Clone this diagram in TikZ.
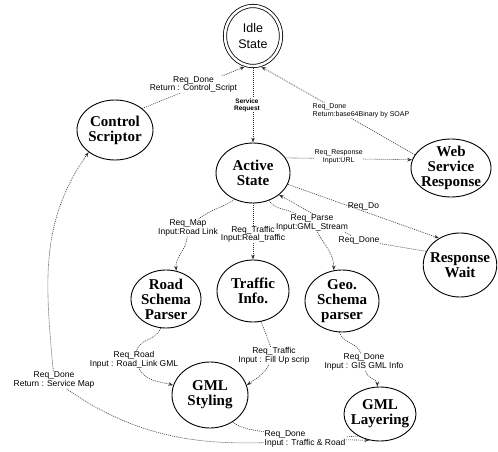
\documentclass[tikz,border=0pt]{standalone}
\usepackage{fontspec}
\setmainfont{Liberation Serif}
\setsansfont{Liberation Sans}
\usetikzlibrary{shapes.geometric,arrows.meta}
\begin{document}
\begin{tikzpicture}[x=1pt,y=1pt,
	statenode/.style ={ellipse, draw, line width=0.9pt, align=center, inner sep=-4pt, font=\bfseries\fontsize{15}{15}\selectfont},
	idlenode/.style ={statenode, double, double distance=2.5pt, line width=0.8pt, outer sep=2pt, font=\sffamily\fontsize{12.5}{16}\selectfont},
	lbl/.style ={fill=white, text=black, inner sep=0.5pt, align=center, font=\sffamily\fontsize{8.5}{8.5}\selectfont},
	lblsm/.style ={lbl, font=\sffamily\fontsize{7}{7.5}\selectfont},
	flow/.style ={-{Stealth[length=5pt,width=3.6pt]}, line width=0.6pt, black!80, dash pattern=on 1pt off 1pt}]
		\useasboundingbox (0,0) rectangle (498,451);
		\node[idlenode, minimum width=56pt, minimum height=60pt] (idle) at (253,415) {Idle\\State};
		\node[statenode, minimum width=76pt, minimum height=60pt] (ctrl) at (115,321) {Control\\Scriptor};
		\node[statenode, minimum width=74pt, minimum height=60pt] (active) at (253,278) {Active\\State};
		\node[statenode, minimum width=80pt, minimum height=58pt] (web) at (451,283) {Web\\Service\\Response};
		\node[statenode, minimum width=72pt, minimum height=64pt] (wait) at (460,186) {Response\\Wait};
		\node[statenode, minimum width=70pt, minimum height=58pt] (road) at (166,152) {Road\\Schema\\Parser};
		\node[statenode, minimum width=72pt, minimum height=62pt] (traffic) at (253,160) {Traffic\\Info.};
		\node[statenode, minimum width=74pt, minimum height=62pt] (geo) at (342,150) {Geo.\\Schema\\parser};
		\node[statenode, minimum width=76pt, minimum height=66pt] (sty) at (210,56) {GML\\Styling};
		\node[statenode, minimum width=72pt, minimum height=54pt] (lay) at (380,37) {GML\\Layering};

		\draw[flow] (idle.south) -- node[lbl, font=\sffamily\bfseries\fontsize{6.5}{7}\selectfont, xshift=-6pt] (lreq) {Service\\Request} (active.north);
		\draw[flow] (ctrl.north east) -- node[lbl, yshift=3pt] (lctrl) {Req\_Done\\Return : Control\_Script} (idle.255);
		\draw[flow] (web.160) -- node[lblsm, align=left, anchor=west, pos=0.67, yshift=-15pt] (lwebdone) {Req\_Done\\Return:base64Binary by SOAP} (idle.285);
		\draw[flow] (active.25) -- node[lblsm, pos=0.42, yshift=2pt] (lresp) {Req\_Response\\Input:URL} (web.168);
		\draw[flow] (active.-18) -- node[lbl, fill=none, above, pos=0.5] (ldo) {Req\_Do} (wait.128);
		\node[lbl] (ldone) at (359,211) {Req\_Done};
		\draw[flow] (wait.158) -- (ldone) -- (active.-40);

		\node[lbl] (lmap) at (188,223) {Req\_Map\\Input:Road Link};
		\draw[flow] (active.235) [out=215,in=40] to (lmap) [out=-95,in=95] to (road.70);
		\draw[flow] (active.south) -- node[lbl, pos=0.55] (ltraf) {Req\_Traffic\\Input:Real\_traffic} (traffic.north);
		\node[lbl] (lparse) at (312,228) {Req\_Parse\\Input:GML\_Stream};
		\draw[flow] (active.-60) [out=-55,in=150] to (lparse) [out=-60,in=90] to (geo.105);

		\node[lbl] (lroad) at (134,91) {Req\_Road\\Input : Road\_Link GML};
		\draw[flow] (road.-100) [out=-110,in=75] to (lroad) [out=-60,in=165] to (sty.165);
		\node[lbl] (ltraf2) at (274,95) {Req\_Traffic\\Input : Fill Up scrip};
		\draw[flow] (traffic.-75) [out=-70,in=110] to (ltraf2) [out=-120,in=35] to (sty.15);
		\node[lbl] (lgeo) at (364,89) {Req\_Done\\Input : GIS GML Info};
		\draw[flow] (geo.-95) [out=-70,in=110] to (lgeo) [out=-80,in=95] to (lay.95);

		\node[lbl] (lsvc) at (54,71) {Req\_Done\\Return : Service Map};
		\draw[flow] (lay.-135) [out=185,in=-35] to (lsvc) [out=95,in=235] to (ctrl.-140);
		\node[lbl, align=left] (lsty) at (305,12) {Req\_Done\\Input : Traffic \& Road};
		\draw[flow] (sty.-50) [out=-35,in=170] to (lsty) -- (lay.-112);
	\end{tikzpicture}
\end{document}
